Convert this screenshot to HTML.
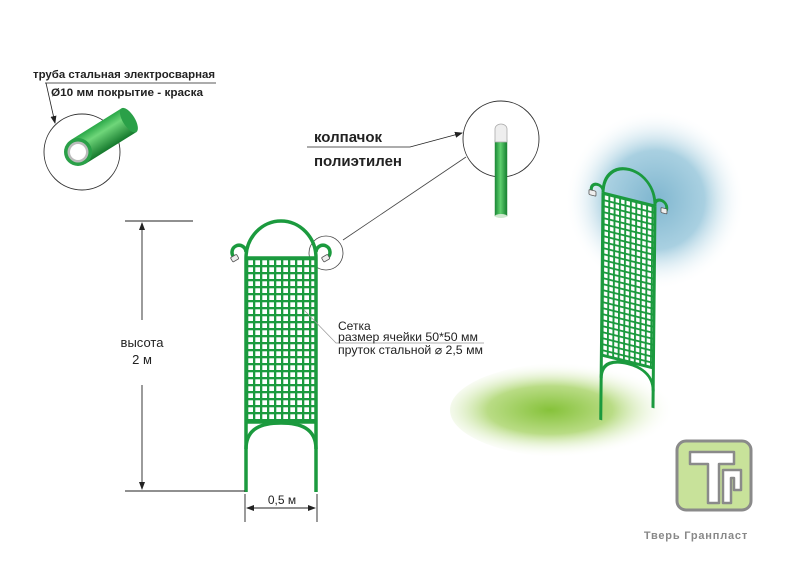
<!DOCTYPE html>
<html><head><meta charset="utf-8"><style>
html,body{margin:0;padding:0;background:#fff}
svg{display:block}
text{font-family:"Liberation Sans","DejaVu Sans",sans-serif}
</style></head><body>
<svg width="800" height="565" viewBox="0 0 800 565" xmlns="http://www.w3.org/2000/svg">
<defs>
<pattern id="g" x="246" y="258" width="7" height="7" patternUnits="userSpaceOnUse">
<rect width="7" height="7" fill="#1b9a3e"/><rect x="2.3" y="2.3" width="4.7" height="4.7" fill="#fff"/>
</pattern>
<pattern id="g2" x="0" y="0" width="5.4" height="6" patternUnits="userSpaceOnUse">
<rect width="5.4" height="6" fill="#1b9a3e"/><rect x="1.9" y="1.9" width="3.5" height="4.1" fill="#fff"/>
</pattern>
<radialGradient id="blue" cx="0.5" cy="0.5" r="0.5">
<stop offset="0" stop-color="#7fb6cf"/><stop offset="0.55" stop-color="#a9d0e1"/><stop offset="1" stop-color="#fff" stop-opacity="0"/>
</radialGradient>
<radialGradient id="grn" cx="0.4" cy="0.5" r="0.5">
<stop offset="0" stop-color="#86c23a"/><stop offset="0.5" stop-color="#b9dc85"/><stop offset="1" stop-color="#fff" stop-opacity="0"/>
</radialGradient>
<linearGradient id="tube" x1="0" y1="0" x2="1" y2="0">
<stop offset="0" stop-color="#1a8a36"/><stop offset="0.45" stop-color="#5fcf6e"/><stop offset="1" stop-color="#158030"/>
</linearGradient>
<linearGradient id="tube2" x1="0" y1="0" x2="0" y2="1">
<stop offset="0" stop-color="#2aa848"/><stop offset="0.35" stop-color="#6fd67a"/><stop offset="1" stop-color="#14782c"/>
</linearGradient>
<marker id="ar" markerWidth="8" markerHeight="8" refX="7" refY="4" orient="auto" markerUnits="userSpaceOnUse">
<path d="M0 1L8 4L0 7Z" fill="#222"/></marker>
</defs>

<!-- backgrounds -->
<ellipse cx="655" cy="200" rx="90" ry="90" fill="url(#blue)"/>
<ellipse cx="575" cy="410" rx="125" ry="48" fill="url(#grn)"/>

<!-- pipe detail -->
<text x="33" y="78" font-size="11" font-weight="bold" fill="#222" textLength="182" lengthAdjust="spacingAndGlyphs">труба  стальная электросварная</text>
<text x="51" y="96" font-size="11" font-weight="bold" fill="#222" textLength="152" lengthAdjust="spacingAndGlyphs">Ø10 мм покрытие - краска</text>
<path d="M45 83H216" stroke="#222" stroke-width="0.8"/>
<path d="M46 83L55 123" stroke="#222" stroke-width="0.8" marker-end="url(#ar)"/>
<circle cx="82" cy="152" r="38" fill="none" stroke="#333" stroke-width="0.9"/>
<g transform="rotate(-32 78 152)">
<rect x="78" y="138" width="60" height="28" fill="url(#tube2)"/>
<ellipse cx="138" cy="152" rx="6" ry="14" fill="#2aa048"/>
</g>
<circle cx="78" cy="152" r="14" fill="#2aa048"/>
<circle cx="78" cy="152" r="10.5" fill="#bbb"/>
<circle cx="78" cy="152" r="8" fill="#fff"/>

<!-- cap detail -->
<text x="314" y="142" font-size="15" font-weight="bold" fill="#222">колпачок</text>
<text x="314" y="166" font-size="15" font-weight="bold" fill="#222">полиэтилен</text>
<path d="M307 147H410L462 133" stroke="#222" stroke-width="0.8" fill="none" marker-end="url(#ar)"/>
<circle cx="501" cy="139" r="38" fill="none" stroke="#333" stroke-width="0.9"/>
<rect x="495" y="140" width="12" height="76" fill="url(#tube)" stroke="#2a8a3a" stroke-width="0.5"/>
<ellipse cx="501" cy="216" rx="6" ry="2" fill="#cfe8cf"/>
<path d="M495 142V129A6 5 0 0 1 507 129V142Z" fill="#eee" stroke="#aaa" stroke-width="0.8"/>
<path d="M466 157L343 240" stroke="#444" stroke-width="0.8"/>
<circle cx="326" cy="253" r="17" fill="none" stroke="#444" stroke-width="0.8"/>

<!-- main trellis -->
<rect x="246" y="258" width="70" height="164" fill="url(#g)"/>
<g stroke="#1b9a3e" stroke-width="3.5" fill="none">
<path d="M246 492V258M316 492V258"/>
<path d="M246 258A35 37 0 0 1 316 258"/>
<path d="M246 258H316M246 422H316"/>
<path d="M246 449C246 428 262 423 281 423C300 423 316 428 316 449"/>
<path d="M246 252A7 7 0 1 0 235 258"/>
<path d="M316 252A7 7 0 1 1 327 258"/>
</g>
<rect x="231" y="256" width="7" height="5" rx="1" fill="#eee" stroke="#555" stroke-width="0.8" transform="rotate(-30 234 258)"/>
<rect x="322" y="256" width="7" height="5" rx="1" fill="#eee" stroke="#555" stroke-width="0.8" transform="rotate(-30 325 258)"/>

<!-- mesh label -->
<path d="M304 310L336 343H484" stroke="#999" stroke-width="0.7" fill="none"/>
<text x="338" y="330" font-size="12" fill="#222">Сетка</text>
<text x="338" y="341" font-size="12" fill="#222" textLength="140" lengthAdjust="spacingAndGlyphs">размер ячейки 50*50 мм</text>
<text x="338" y="354" font-size="12" fill="#222" textLength="145" lengthAdjust="spacingAndGlyphs">пруток стальной  ⌀ 2,5 мм</text>

<!-- dimensions -->
<g stroke="#222" stroke-width="0.9">
<path d="M125 221H193M125 491H245"/>
<path d="M142 320V223" marker-end="url(#ar)"/>
<path d="M142 385V489" marker-end="url(#ar)"/>
<path d="M245 494V522M317 494V522"/>
<path d="M281 508H247" marker-end="url(#ar)"/>
<path d="M281 508H315" marker-end="url(#ar)"/>
</g>
<text x="142" y="347" font-size="13" fill="#222" text-anchor="middle">высота</text>
<text x="142" y="364" font-size="13" fill="#222" text-anchor="middle">2 м</text>
<text x="282" y="504" font-size="12" fill="#222" text-anchor="middle">0,5 м</text>

<!-- right trellis -->
<g transform="matrix(1,0.25,-0.01,1,603,193)">
<rect x="0" y="0" width="52" height="162" fill="url(#g2)"/>
<g stroke="#1b9a3e" stroke-width="3" fill="none">
<path d="M0 0H52M0 162H52"/>
<path d="M0 227V0M52 202V0"/>
<path d="M0 0C0 -40 52 -40 52 0"/>
<path d="M0 185C0 168 14 164 26 164C38 164 52 168 52 185"/>
<path d="M0 -3A6 6 0 1 0 -10 3"/>
<path d="M52 -3A6 6 0 1 1 62 3"/>
</g>
<rect x="-14" y="0" width="7" height="5" rx="1" fill="#eee" stroke="#555" stroke-width="0.8"/>
<rect x="58" y="0" width="6" height="5" rx="1" fill="#eee" stroke="#555" stroke-width="0.8"/>
</g>

<!-- logo -->
<rect x="677" y="441" width="74" height="69" rx="9" fill="#c8e29a" stroke="#8a8a8a" stroke-width="3"/>
<path d="M690 452H734V464H719V503H708V464H690Z" fill="#fff" stroke="#8a8a8a" stroke-width="2.5" stroke-linejoin="round"/>
<path d="M723 470H741V490H734V478H731V503H723Z" fill="#fff" stroke="#8a8a8a" stroke-width="2.5" stroke-linejoin="round"/>
<text x="748" y="539" font-size="11" font-weight="bold" fill="#888" text-anchor="end" letter-spacing="0.8">Тверь Гранпласт</text>
</svg>
</body></html>
